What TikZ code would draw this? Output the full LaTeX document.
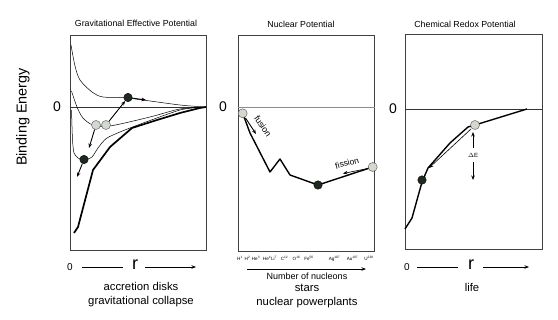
\documentclass[tikz,border=0pt]{standalone}
\usepackage{fontspec}
\setmainfont{Liberation Sans}
\usetikzlibrary{arrows.meta}
\definecolor{darkdot}{HTML}{1F2A1F}
\definecolor{lightdot}{HTML}{D3D9CF}
\begin{document}
\begin{tikzpicture}[x=1pt,y=-1pt,
  frame/.style={draw=black!75,line width=0.7pt},
  zeroline/.style={draw=black!80,line width=0.6pt},
  thincurve/.style={line width=0.5pt},
  thickcurve/.style={line width=1.7pt,line join=round},
  darkball/.style={circle,fill=darkdot,draw=black,line width=0.4pt,inner sep=0pt,minimum size=8.5pt},
  lightball/.style={circle,fill=lightdot,draw=black!60,line width=0.5pt,inner sep=0pt,minimum size=9pt},
  arr/.style={-{Stealth[length=4.5pt,width=3.5pt]},line width=0.9pt},
  thinarr/.style={-{Stealth[length=4.5pt,width=3.5pt]},line width=0.5pt},
  title/.style={font=\fontsize{8.8}{10}\selectfont},
  zerolab/.style={font=\fontsize{14}{15}\selectfont},
  caption/.style={font=\fontsize{11.3}{14}\selectfont,align=center},
  rlab/.style={font=\fontsize{18}{18}\selectfont},
  tick/.style={font=\fontsize{4.6}{5}\selectfont,inner sep=0pt},
]
\useasboundingbox (0,0) rectangle (558,320);

% ---------- Panel 1 ----------
\node[title] (t1) at (136,23) {Gravitational Effective Potential};
\node[font=\fontsize{14.4}{16}\selectfont,rotate=90] (be) at (23,117) {Binding Energy};
\draw[frame] (70,35) rectangle (206,250);
\node[zerolab] (z1) at (57,107) {0};
\draw[zeroline] (70,107) -- (206,107);
\draw[thincurve] plot[smooth,tension=0.5] coordinates {(71,45) (75,66) (80,80) (92,92) (103,97) (127,98) (180,105) (206,107)};
\draw[thincurve] plot[smooth,tension=0.5] coordinates {(71.5,91) (77,107) (83,118) (93,125) (110,126) (150,117) (180,109) (206,107)};
\draw[thincurve] plot[smooth,tension=0.4] coordinates {(71.5,110) (72.5,140) (74,153) (78,158) (84,160) (92,157) (98,148) (107,138) (130,128) (180,110) (206,107)};
\draw[thickcurve] (74,233) -- (78,227) -- (93,170) -- (110,147) -- (132,128) -- (157,120) -- (180,113) -- (200,108) -- (206,107);
\node[darkball] (d1) at (128,97.5) {};
\node[lightball] (l1) at (96,125) {};
\node[lightball] (l2) at (106,125) {};
\node[darkball] (d2) at (84,159.5) {};
\coordinate (e1) at (146,100);
\coordinate (e2) at (89,148);
\coordinate (e3) at (77,177);
\draw[arr] (d1) -- (e1);
\draw[arr] (l2) -- (d1);
\draw[arr] (l1) -- (e2);
\draw[arr] (d2) -- (e3);
\node[font=\fontsize{10}{11}\selectfont] (o1) at (70,267) {0};
\node[rlab] (r1) at (135,265) {r};
\coordinate (a1s) at (82,267);
\coordinate (a1e) at (123,267);
\coordinate (a1f) at (145,267);
\coordinate (a1g) at (196,267);
\draw[line width=0.7pt] (a1s) -- (a1e);
\draw[thinarr,line width=0.7pt] (a1f) -- (a1g);
\node[caption] (c1) at (141,295) {accretion disks\\gravitational collapse};

% ---------- Panel 2 ----------
\node[title] (t2) at (301,24) {Nuclear Potential};
\draw[frame] (238,35) rectangle (374,251);
\node[zerolab] (z2) at (223,107) {0};
\draw[draw=black!45,line width=0.6pt] (238,107) -- (375,107);
\draw[thickcurve,line width=1.4pt] (242.7,113.3) -- (250,133) -- (270,172) -- (280,159) -- (290,175) -- (318,185) -- (372.7,167);
\node[lightball] (h1) at (242.7,113.3) {};
\node[darkball] (fe) at (318,185) {};
\node[lightball] (u) at (372.7,167) {};
\coordinate (fu1) at (245.5,118);
\coordinate (fu2) at (256,134);
\draw[arr] (fu1) -- (fu2);
\node[font=\fontsize{8.8}{9}\selectfont,rotate=-56,inner sep=0pt] (fus) at (263,126) {fusion};
\coordinate (fi1) at (368,168.5);
\coordinate (fi2) at (343,173.5);
\draw[thinarr,line width=0.6pt] (fi1) -- (fi2);
\node[font=\fontsize{8.5}{9}\selectfont,rotate=15,inner sep=0pt] (fis) at (347,163) {fission};
\node[tick] (k1) at (240,258.5) {H\textsuperscript{1}};
\node[tick] (k2) at (247.5,258.5) {H\textsuperscript{2}};
\node[tick] (k3) at (256,258.5) {He\textsuperscript{3}};
\node[tick] (k4) at (270,258.5) {He\textsuperscript{4}Li\textsuperscript{7}};
\node[tick] (k5) at (284.5,258.5) {C\textsuperscript{12}};
\node[tick] (k6) at (296.5,258.5) {O\textsuperscript{16}};
\node[tick] (k7) at (309,258.5) {Fe\textsuperscript{56}};
\node[tick] (k8) at (334.5,258.5) {Ag\textsuperscript{107}};
\node[tick] (k9) at (352.5,258.5) {Au\textsuperscript{197}};
\node[tick] (k10) at (369,258.5) {U\textsuperscript{238}};
\coordinate (n1) at (247,269);
\coordinate (n2) at (366,269);
\draw[thinarr,line width=0.8pt] (n1) -- (n2);
\node[font=\fontsize{9}{10}\selectfont] (nn) at (307,276) {Number of nucleons};
\node[caption] (c2) at (307,296) {stars\\nuclear powerplants};

% ---------- Panel 3 ----------
\node[title] (t3) at (465,24) {Chemical Redox Potential};
\draw[frame] (405,34) rectangle (542,249);
\node[zerolab] (z3) at (393,109) {0};
\draw[zeroline] (405,109) -- (542,109);
\draw[thickcurve,line width=1.4pt] (405,229) -- (412,218) -- (422,182) -- (428,168) -- (450,143) -- (468,127) -- (475,125) -- (527,109);
\node[lightball] (cl) at (475,125) {};
\node[darkball] (cd) at (422,180) {};
\coordinate (ca1) at (471,129);
\coordinate (ca2) at (429,168);
\draw[thinarr,line width=0.6pt] (ca1) -- (ca2);
\node[font=\fontsize{6}{7}\selectfont] (de) at (473,155) {$\Delta$E};
\coordinate (up1) at (473,148);
\coordinate (up2) at (473,132);
\coordinate (dn1) at (473,162);
\coordinate (dn2) at (473,180);
\draw[arr,line width=0.8pt] (up1) -- (up2);
\draw[arr,line width=0.8pt] (dn1) -- (dn2);
\node[font=\fontsize{10}{11}\selectfont] (o3) at (407,267) {0};
\node[rlab] (r3) at (471,265) {r};
\coordinate (a3s) at (417,267);
\coordinate (a3e) at (458,267);
\coordinate (a3f) at (483,267);
\coordinate (a3g) at (529,267);
\draw[line width=0.7pt] (a3s) -- (a3e);
\draw[thinarr,line width=0.7pt] (a3f) -- (a3g);
\node[caption] (c3) at (472,287) {life};
\end{tikzpicture}
\end{document}
